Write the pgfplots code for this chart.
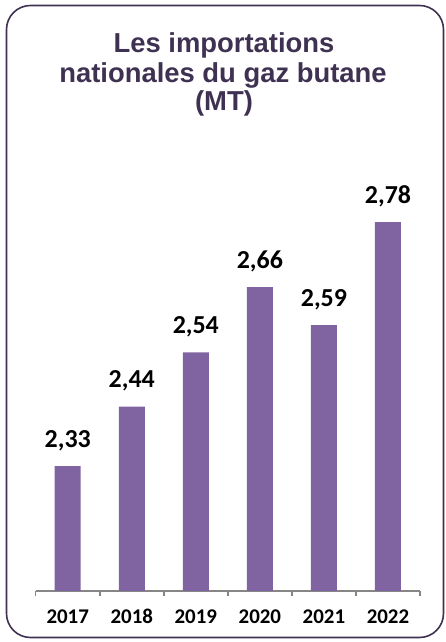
\documentclass[border=0pt]{standalone}
\usepackage{pgfplots}
\pgfplotsset{compat=1.18}
\usepackage{fontspec}
\setmainfont{Carlito}
\newfontfamily\titlefont{Liberation Sans}
\definecolor{barpurple}{HTML}{8064A2}
\definecolor{darkpurple}{HTML}{3F3151}
\definecolor{axisgray}{HTML}{868686}
\begin{document}
\begin{tikzpicture}
\useasboundingbox (0bp,0bp) rectangle (446bp,642bp);
\draw[darkpurple, line width=1.6bp, rounded corners=24bp] (6.5bp,4.5bp) rectangle (443.5bp,636.5bp);
\begin{scope}[every node/.style={anchor=base, text=darkpurple, font=\titlefont\bfseries\fontsize{27.5}{29}\selectfont, inner sep=0pt}]
\node at (224bp,589bp) {Les importations};
\node at (223bp,559bp) {nationales du gaz butane};
\node at (224bp,531bp) {(MT)};
\end{scope}
\begin{axis}[
  at={(35.7bp,51bp)}, anchor=south west,
  scale only axis, width=384.3bp, height=434bp,
  ybar, bar width=26bp,
  xmin=-0.5, xmax=5.5, ymin=2.1, ymax=2.9,
  axis x line*=bottom, axis y line=none,
  xtick={0,1,2,3,4,5},
  xticklabels={2017,2018,2019,2020,2021,2022},
  major tick length=0pt,
  minor xtick={-0.5,0.5,1.5,2.5,3.5,4.5,5.5},
  minor tick length=5bp, tick align=outside,
  tick style={axisgray, line width=1.5bp},
  axis line style={axisgray, line width=1.5bp},
  xticklabel style={font=\bfseries\fontsize{21}{21}\selectfont, anchor=base, yshift=-32bp},
  /pgf/number format/assume math mode=true,
  /pgf/number format/use comma,
  /pgf/number format/fixed,
  /pgf/number format/fixed zerofill,
  /pgf/number format/precision=2,
  nodes near coords={\pgfmathprintnumber{\pgfplotspointmeta}},
  every node near coord/.append style={font=\bfseries\fontsize{26}{26}\selectfont, anchor=base, yshift=19bp, text=black},
]
\addplot[fill=barpurple, draw=none] coordinates {(0,2.33) (1,2.44) (2,2.54) (3,2.66) (4,2.59) (5,2.78)};
\end{axis}
\end{tikzpicture}
\end{document}
